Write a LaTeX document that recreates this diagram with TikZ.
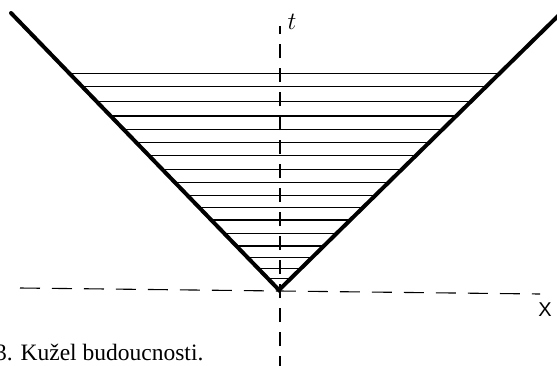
\documentclass[tikz,border=0pt]{standalone}
\usepackage{fontspec}
\setmainfont{Liberation Serif}
\newfontfamily\labelsans{Liberation Sans}
\begin{document}
\begin{tikzpicture}[x=1pt,y=-1pt,
  cone/.style={line width=4pt,line cap=round},
  hatch/.style={line width=1.5pt},
  axis/.style={line width=1.1pt,dash pattern=on 14pt off 10pt},
  haxis/.style={line width=1.1pt,dash pattern=on 20pt off 12pt}]
\useasboundingbox (0,0) rectangle (557,365);
\coordinate (apex) at (279,290);
\coordinate (ltop) at (11,13);
\coordinate (rtop) at (559,15);
\coordinate (tbot) at (280,370);
\coordinate (ttop) at (280,26);
\coordinate (xl) at (20,288);
\coordinate (xr) at (540,294);
% axes
\draw[axis] (tbot) -- (ttop);
\draw[haxis] (xl) -- (xr);
% hatching
\foreach \y in {73.3,86.7,101.7,116,129.3,142.3,155.7,169.3,182.7,195.7,207.7,220,233.3,246,257.7,268.3,278.3}
  \draw[hatch] ({279-0.9675*(290-\y)},\y) -- ({281+1.0183*(290-\y)},\y);
% cone
\draw[cone] (ltop) -- (apex) -- (rtop);
% labels
\node[font=\fontsize{25}{25}\selectfont,inner sep=0pt] (tlab) at (292,22) {$t$};
\node[font=\labelsans\fontsize{20}{20}\selectfont,inner sep=0pt] (xlab) at (545,310) {X};
\node[anchor=base west,inner sep=0pt,font=\fontsize{23.5}{23.5}\selectfont] (cap) at (-5,360) {3. Kužel budoucnosti.};
\end{tikzpicture}
\end{document}
